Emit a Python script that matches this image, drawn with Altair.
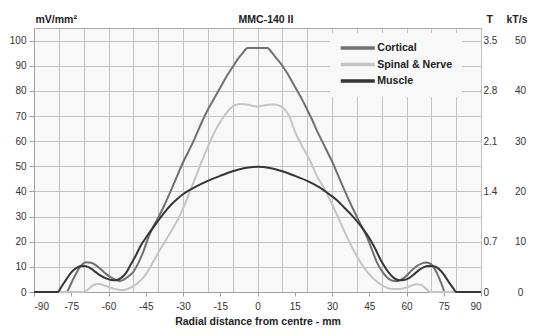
import altair as alt
import pandas as pd

FONT = "Liberation Sans"

series_order = ["Cortical", "Spinal & Nerve", "Muscle"]
series_colors = ["#707070", "#c4c4c4", "#363636"]

cort_x = [-90, -80, -77, -75, -73, -71, -69, -67, -65, -63,
          -61, -59, -57, -55.5, -54, -52, -50, -48, -46, -44,
          -42, -40, -38, -35, -32, -30, -28, -26, -24, -22,
          -20, -18, -16, -14, -12, -10, -8, -6, -4, 0,
          4, 6, 8, 10, 12, 14, 16, 18, 20, 22,
          24, 26, 28, 30, 32, 35, 38, 40, 42, 44,
          46, 48, 50, 52, 54, 56, 58, 60, 62, 64,
          66, 68, 70, 72, 74, 75.5, 80, 90]
cort_v = [0, 0, 0, 3.5, 7.5, 10.5, 11.8, 11.6, 10.6, 9,
          7.2, 5.8, 4.8, 4.4, 4.8, 6.2, 8, 11.5, 16, 21.5,
          26, 29.5, 33.5, 40, 47, 51.5, 55.5, 59.5, 64, 68.5,
          72.5, 76, 79.5, 83, 86.5, 89.5, 92.5, 95, 97, 97,
          97, 95, 92.5, 90, 87, 83.5, 80, 76.5, 72.5, 68.5,
          64, 60, 56, 52, 47.5, 40.5, 34, 30, 26, 22,
          17, 12, 8.5, 6, 4.6, 4.3, 5, 6.5, 8.5, 10.2,
          11.3, 11.7, 11, 8, 3.5, 0, 0, 0]

spin_x = [-90, -70, -68, -66, -64, -62, -60, -58, -56, -54,
          -52, -50, -48, -46, -44, -42, -40, -37, -34, -31,
          -28, -25, -22, -19, -16, -13, -11, -9, -7, -5,
          -3, -1, 0, 1, 3, 5, 7, 9, 11, 13,
          15, 18, 21, 24, 27, 30, 33, 36, 39, 42,
          45, 48, 51, 54, 57, 60, 62, 64, 66, 68,
          69.5, 90]
spin_v = [0, 0, 1.2, 2.8, 3.2, 2.8, 2, 1.4, 0.9, 0.8,
          1.3, 2.3, 3.8, 5.7, 8.5, 12, 15.5, 20.5, 25.5, 31,
          38, 45.5, 53, 60, 66, 70.5, 73, 74.3, 74.8, 74.7,
          74.3, 73.9, 73.8, 73.9, 74.3, 74.6, 74.6, 74, 72.6, 69.5,
          64, 58, 52.5, 46, 41, 35, 28.5, 22, 16, 11,
          7, 4.2, 2.2, 1.2, 1.2, 1.8, 2.5, 3.1, 2.8, 1.2,
          0, 0]

musc_x = [-90, -80.5, -79, -77, -75, -73, -71, -69, -67, -65,
          -63, -61, -59, -57, -55, -53, -51, -49, -47, -45,
          -43, -41, -38, -35, -32, -30, -25, -20, -15, -10,
          -5, 0, 5, 10, 15, 20, 25, 29, 32, 35,
          38, 41, 44, 47, 50, 53, 55, 57, 59, 61,
          63, 65, 67, 69, 71, 73, 75, 77, 79, 80,
          90]
musc_v = [0, 0, 2, 5, 7.8, 9.5, 10.3, 10.2, 9.3, 7.8,
          6.4, 5.4, 4.8, 4.7, 5.5, 7.5, 11, 14.5, 18.5, 21.5,
          24.3, 27, 31, 34.5, 37.3, 38.9, 41.8, 44.2, 46.2, 48,
          49.3, 49.8, 49.3, 48, 46.2, 44.2, 41.6, 38.8, 36.5, 33.5,
          30.5, 27, 23, 18, 12, 7.5, 5.5, 4.7, 4.8, 5.5,
          7, 8.7, 9.9, 10.3, 10.2, 9.2, 7, 4, 1.2, 0,
          0]

x_grid_values = list(range(-90, 91, 10))
x_label_values = list(range(-90, 91, 15))
y_left_values = list(range(0, 101, 10))
y_right_values = list(range(0, 101, 20))

rows = []
for name, xs, vs in [("Cortical", cort_x, cort_v),
                     ("Spinal & Nerve", spin_x, spin_v),
                     ("Muscle", musc_x, musc_v)]:
    for i, (a, b) in enumerate(zip(xs, vs)):
        rows.append({"series": name, "mm": a, "v": b, "idx": i})
df = pd.DataFrame(rows)

x_scale = alt.Scale(domain=[-90, 90], nice=False, zero=False)
y_scale = alt.Scale(domain=[0, 105], nice=False)

lines = alt.Chart(df).mark_line(strokeWidth=2, interpolate="monotone").encode(
    x=alt.X("mm:Q", scale=x_scale,
            axis=alt.Axis(orient="bottom", values=x_grid_values, labels=False,
                          ticks=False, domain=False, grid=True, title="")),
    y=alt.Y("v:Q", scale=y_scale,
            axis=alt.Axis(orient="left", values=y_left_values, grid=True,
                          tickSize=5, labelPadding=3, domain=True,
                          title="mV/mm²", titleAngle=0, titleX=1, titleY=-6,
                          titleAlign="left", titleBaseline="alphabetic")),
    color=alt.Color("series:N", sort=series_order,
                    scale=alt.Scale(domain=series_order, range=series_colors),
                    legend=alt.Legend(title=None, orient="none", legendX=296,
                                      legendY=5, padding=9,
                                      fillColor="#f8f8f8",
                                      symbolType="M-4,0L4,0", symbolSize=72.25,
                                      symbolStrokeWidth=3.5, symbolOffset=12.75,
                                      labelOffset=13.5, rowPadding=2.5,
                                      labelExpr="datum.label + '\u00a0\u00a0\u00a0\u00a0\u00a0\u00a0'")),
    order="idx:Q",
)

t_layer = alt.Chart(df).mark_line(opacity=0).encode(
    x=alt.X("mm:Q", scale=x_scale,
            axis=alt.Axis(orient="bottom", values=x_label_values, grid=False,
                          ticks=True, tickSize=4, labelPadding=5, domain=True,
                          labelExpr="'' + datum.value",
                          title="Radial distance from centre - mm",
                          titlePadding=5)),
    y=alt.Y("v:Q", scale=y_scale,
            axis=alt.Axis(orient="right", values=y_right_values, grid=False,
                          ticks=False, tickSize=0, labelPadding=2, domain=False,
                          labelExpr="datum.value == 0 ? '0' : format(datum.value * 0.035, '.1f')",
                          title="T", titleAngle=0, titleX=5, titleY=-6,
                          titleAlign="left", titleBaseline="alphabetic")),
    detail="series:N",
)

k_layer = alt.Chart(df).mark_line(opacity=0).encode(
    x=alt.X("mm:Q", scale=x_scale,
            axis=alt.Axis(orient="top", labels=False, ticks=False, grid=False,
                          domain=False, title="MMC-140 II", titleAngle=0,
                          titleX=231.5, titleY=-6, titleAlign="center",
                          titleBaseline="alphabetic")),
    y=alt.Y("v:Q", scale=y_scale,
            axis=alt.Axis(orient="right", values=y_right_values, grid=False,
                          ticks=False, tickSize=0, labelPadding=39,
                          labelAlign="center", domain=False,
                          labelExpr="'' + (datum.value / 2)",
                          title="kT/s", titleAngle=0, titleX=25, titleY=-6,
                          titleAlign="left", titleBaseline="alphabetic")),
    detail="series:N",
)

chart = alt.layer(lines, t_layer, k_layer).resolve_axis(
    x="independent", y="independent"
).properties(
    width=447,
    height=264,
    autosize=alt.AutoSizeParams(type="none"),
    padding={"left": 26, "top": 20, "right": 47, "bottom": 36},
).configure_view(
    fill="#f8f8f8", stroke="#a8a8a8"
).configure_axis(
    labelFont=FONT, labelFontSize=10, labelColor="#333333",
    titleFont=FONT, titleFontSize=10.5, titleFontWeight="bold",
    titleColor="#222222", gridColor="#c2c2c2", gridOpacity=1,
    domainColor="#a0a0a0", tickColor="#a0a0a0"
).configure_legend(
    labelFont=FONT, labelFontSize=10.6, labelFontWeight="bold",
    labelColor="#222222"
)

chart.save("out.html", embed_options={"renderer": "svg", "actions": False})
